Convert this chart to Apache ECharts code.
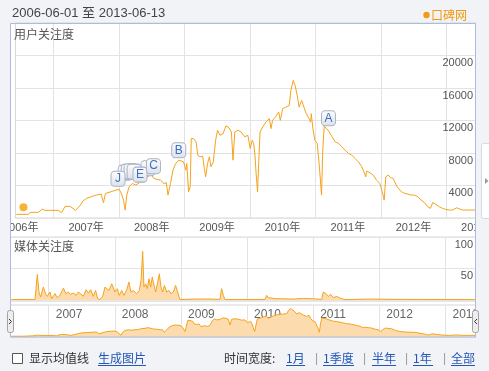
<!DOCTYPE html>
<html>
<head>
<meta charset="utf-8">
<script src="https://cdn.jsdelivr.net/npm/echarts@6/dist/echarts.min.js"></script>
<style>
html,body{margin:0;padding:0;background:#f1f3f7;overflow:hidden;width:489px;height:371px;}
#c{width:530px;height:371px;}
</style>
</head>
<body>
<div id="c"></div>
<script>
// ---------- data ----------
const startDate = '2006-06-01';
const endDate = '2013-06-13';

const mainDates = ['2006-06-06','2006-08-13','2006-08-23','2006-10-08','2006-10-30','2006-11-14','2007-01-26','2007-02-14','2007-03-04','2007-04-01',
'2007-04-19','2007-05-02','2007-05-26','2007-06-13','2007-07-02','2007-07-30','2007-08-26','2007-09-23','2007-10-06','2007-10-17',
'2007-11-17','2007-12-15','2008-01-02','2008-01-15','2008-01-26','2008-02-04','2008-02-13','2008-02-26','2008-03-16','2008-04-03',
'2008-04-22','2008-05-10','2008-05-28','2008-06-16','2008-06-25','2008-07-04','2008-07-13','2008-08-01','2008-08-19','2008-09-07',
'2008-09-21','2008-09-30','2008-10-14','2008-10-28','2008-11-10','2008-11-29','2008-12-08','2008-12-26','2009-01-08','2009-01-13',
'2009-01-23','2009-02-01','2009-02-07','2009-02-19','2009-03-06','2009-03-15','2009-03-28','2009-04-12','2009-04-21','2009-04-28',
'2009-05-09','2009-05-19','2009-05-28','2009-06-10','2009-06-23','2009-07-04','2009-07-17','2009-08-04','2009-08-19','2009-09-01',
'2009-09-19','2009-09-28','2009-10-08','2009-10-26','2009-11-13','2009-12-02','2009-12-20','2010-01-02','2010-01-13','2010-01-21',
'2010-01-28','2010-02-04','2010-02-12','2010-02-19','2010-02-26','2010-03-13','2010-03-31','2010-04-19','2010-04-28','2010-05-07',
'2010-05-26','2010-06-10','2010-06-19','2010-07-02','2010-07-20','2010-08-08','2010-08-17','2010-08-30','2010-09-10','2010-09-23',
'2010-10-02','2010-10-16','2010-11-07','2010-11-26','2010-12-05','2010-12-09','2010-12-18','2010-12-29','2011-01-11','2011-01-20',
'2011-01-29','2011-02-04','2011-02-11','2011-02-19','2011-03-13','2011-04-04','2011-04-22','2011-05-11','2011-05-29','2011-06-16',
'2011-07-05','2011-07-23','2011-08-11','2011-08-29','2011-09-17','2011-09-29','2011-10-09','2011-10-14','2011-11-02','2011-11-20',
'2011-12-08','2011-12-27','2012-01-09','2012-01-20','2012-01-29','2012-02-11','2012-02-24','2012-03-10','2012-03-19','2012-04-01',
'2012-04-25','2012-05-13','2012-06-01','2012-06-19','2012-07-07','2012-07-26','2012-08-13','2012-08-31','2012-09-19','2012-10-04',
'2012-10-17','2012-11-04','2012-11-22','2012-12-11','2012-12-29','2013-01-17','2013-02-04','2013-02-13','2013-02-28','2013-03-13',
'2013-03-31','2013-04-28','2013-06-13'];
const mainValues = [450,450,700,700,1100,940,940,650,1390,1450,
1180,940,1470,2080,2410,2620,2820,2940,1880,3030,
3230,3440,3520,2940,2200,980,2820,3840,4250,4050,
4330,4460,4990,5160,5480,5560,4870,4740,4660,4250,
4330,2820,4250,5890,6630,7120,7320,6910,5890,6710,
3230,3840,9780,9780,9370,7730,7530,7600,6100,5070,
6710,7530,6300,6910,9570,10800,10180,10390,11330,11210,
10590,7120,10590,10800,10590,10000,10180,8550,9570,9200,
7900,5480,3230,7120,10590,11210,11820,12230,11000,12020,
12520,13040,12020,13450,13650,13860,15710,16930,16320,14890,
13650,14480,13040,12230,11800,12840,11000,9570,9170,7120,
4660,2820,8340,11290,10800,10000,9370,9170,8750,8340,
7940,7730,7320,6910,6300,5690,5070,5770,5560,5280,
4660,4250,3230,2200,5070,5280,4990,4870,4450,3840,
3230,3030,2940,2820,2820,2620,2200,1920,1390,1180,
1910,1670,1390,1180,1060,980,980,780,1260,1140,
980,980,980];

const mediaDates = ['2006-06-10','2006-10-17','2006-10-23','2006-10-30','2006-11-08','2006-11-17','2006-12-02','2006-12-15','2006-12-24','2007-01-08',
'2007-01-17','2007-02-05','2007-02-17','2007-03-04','2007-03-23','2007-04-06','2007-04-19','2007-05-02','2007-05-17','2007-06-01',
'2007-06-13','2007-06-26','2007-07-11','2007-07-26','2007-08-08','2007-08-21','2007-09-04','2007-09-17','2007-09-28','2007-10-11',
'2007-10-26','2007-11-08','2007-11-17','2007-11-30','2007-12-15','2007-12-24','2008-01-02','2008-01-15','2008-01-26','2008-02-08',
'2008-02-21','2008-03-07','2008-03-19','2008-03-30','2008-04-12','2008-05-01','2008-05-15','2008-05-25','2008-06-03','2008-06-10',
'2008-06-20','2008-06-29','2008-07-08','2008-07-17','2008-07-26','2008-08-05','2008-08-14','2008-08-23','2008-09-03','2008-09-12',
'2008-09-21','2008-10-01','2008-10-14','2008-10-26','2008-11-06','2008-11-19','2008-12-02','2008-12-13','2008-12-26','2009-03-10',
'2009-06-10','2009-08-04','2009-08-13','2009-08-23','2009-09-01','2010-04-10','2010-04-19','2010-04-28','2010-05-17','2010-06-04',
'2010-07-11','2010-09-13','2010-11-08','2011-01-02','2011-02-17','2011-02-26','2011-03-13','2011-03-26','2011-04-08','2011-04-22',
'2011-05-11','2011-05-25','2011-06-07','2011-06-26','2011-11-11','2012-03-28','2013-06-13'];
const mediaValues = [0.8,0.8,1,40.5,12.6,4.8,20.5,10,5.8,12.6,
2.2,10,3.7,7.4,18.9,10,12.6,9,11,7.4,
12.6,10,5.8,16.3,11,16.3,5.8,15.2,2.2,0.6,
5.8,20.5,23.1,15.2,25.8,28.4,12.6,17.9,7.4,15.2,
7.4,16.3,28.4,12.6,15.2,10,15.2,31,77.3,20.5,
25.8,17.9,33.7,20.5,36.3,23.1,12.6,25.8,41.6,20.5,
12.6,23.1,12.6,15.2,10,12.6,23.1,12.6,0.6,1.5,
1.5,1,18,7,0.6,0.8,7.4,3.7,3,2,
2,1.5,2.5,2,1,12.6,10,5.8,9,3.7,
5.8,3.7,2.2,0.6,1.5,1,0.6];

const flagLetters = ['D','I','H','G','F','J','E','C','B','A'];
const flagDates = ['2008-06-10','2008-02-04','2008-02-21','2008-03-08','2008-03-25','2007-12-26','2008-04-27','2008-07-11','2008-11-29','2011-03-15'];
const flagValues = [6135,5583,5706,5767,5706,4822,5337,6380,8344,12270];
const flagsCovered = ['D','I','H','G','F'];

const markerDates = ['2006-07-16'];
const markerValues = [1310];

const labelYears = [2006,2007,2008,2009,2010,2011,2012,2013];
const navYears = [2007,2008,2009,2010,2011,2012,2013];

// ---------- build ----------
function toTime(s){ const p = s.split('-').map(Number); return new Date(p[0], p[1]-1, p[2]).getTime(); }
const t0 = toTime(startDate), t1 = toTime(endDate);
const PANEL_W = 465, GRID_W = 519;
const tMax = t0 + (t1 - t0) * GRID_W / PANEL_W;

const mainData = mainDates.map((d,i)=>[toTime(d), mainValues[i]]);
const mediaData = mediaDates.map((d,i)=>[toTime(d), mediaValues[i]]);
const markerData = markerDates.map((d,i)=>[toTime(d), markerValues[i]]);
const yearStarts = navYears.map(y=>new Date(y,0,1).getTime());
const midYears = labelYears.map(y=>new Date(y,6,1).getTime());

const LINE = '#f5a31c';
const FILL = '#fcdcae';
const GRIDC = '#e3e3e3';
const BG = '#f1f3f7';
const NUMFONT = "'Liberation Sans','Noto Sans CJK SC',sans-serif";
const CJK = "'Noto Sans CJK SC','Liberation Sans',sans-serif";

const flagGrad = new echarts.graphic.LinearGradient(0,0,0,1,[{offset:0,color:'#fdfdfe'},{offset:1,color:'#dce2ea'}]);

const markPointData = flagLetters.map((l,i)=>{
  const o = {name:l, coord:[toTime(flagDates[i]), flagValues[i]]};
  if (flagsCovered.indexOf(l) >= 0) o.label = {show:false};
  return o;
});

function xAxisOpt(gridIndex, opts){
  return Object.assign({
    type:'value', gridIndex, min:t0, max:tMax, scale:true,
    axisLine:{show:false},
    axisTick:{show:false, customValues:yearStarts},
    splitLine:{show:true, lineStyle:{color:GRIDC, width:1}},
    axisLabel:{show:false}
  }, opts||{});
}
function yAxisOpt(gridIndex, max, interval, opts){
  return Object.assign({
    type:'value', gridIndex, min:0, max, interval, position:'right',
    axisLine:{show:false}, axisTick:{show:false},
    splitLine:{show:true, lineStyle:{color:GRIDC}},
    axisLabel:{inside:true, margin:56, verticalAlign:'top', padding:[2,0,0,0],
      showMinLabel:false, showMaxLabel:false, fontSize:11, color:'#555', fontFamily:NUMFONT,
      formatter:v=>String(v)}
  }, opts||{});
}

const option = {
  backgroundColor: BG,
  animation:false,
  grid:[
    {left:10, top:23, width:GRID_W, height:195, show:true, borderColor:'#d6d6d6', borderWidth:1},
    {left:10, top:237, width:GRID_W, height:63, show:true, borderColor:'#dadada', borderWidth:1},
    {left:10, top:305, width:GRID_W, height:32, show:true, borderColor:'#d6d6d6', borderWidth:1}
  ],
  xAxis:[
    xAxisOpt(0, {axisLabel:{show:true, customValues:midYears, margin:4, fontSize:11, color:'#555', fontFamily:NUMFONT,
      hideOverlap:false, showMinLabel:true, showMaxLabel:true, formatter:v=>new Date(v).getFullYear()+'年'}}),
    xAxisOpt(1, {axisLine:{show:true, onZero:false, lineStyle:{color:'#e6e6e6', width:3}}}),
    xAxisOpt(2, {position:'top', axisLabel:{show:true, inside:true, customValues:yearStarts, margin:4, align:'left',
      padding:[0,0,0,7], fontSize:12, color:'#666', fontFamily:NUMFONT, hideOverlap:false,
      showMinLabel:true, showMaxLabel:true, formatter:v=>String(new Date(v).getFullYear())}})
  ],
  yAxis:[
    yAxisOpt(0, 24000, 4000),
    yAxisOpt(1, 100, 50, {axisLabel:{inside:true, margin:56, verticalAlign:'top', padding:[2,0,0,0],
      showMinLabel:false, showMaxLabel:true, fontSize:11, color:'#555', fontFamily:NUMFONT, formatter:v=>String(v)}}),
    {type:'value', gridIndex:2, min:0, max:19000, show:false, splitLine:{show:false}}
  ],
  series:[
    {type:'line', xAxisIndex:0, yAxisIndex:0, data:mainData, showSymbol:false, z:3,
     lineStyle:{color:LINE, width:1}, itemStyle:{color:LINE},
     markPoint:{
       symbol:'roundRect', symbolSize:[14,15], symbolOffset:[0,0],
       itemStyle:{color:flagGrad, borderColor:'#a9b3c2', borderWidth:1},
       label:{show:true, position:'inside', formatter:p=>p.name, color:'#3f6fc6', fontSize:12, fontFamily:NUMFONT},
       data:markPointData
     }},
    {type:'scatter', xAxisIndex:0, yAxisIndex:0, data:markerData, symbol:'circle', symbolSize:8, z:4,
     itemStyle:{color:'#f5a000'}},
    {type:'line', xAxisIndex:1, yAxisIndex:1, data:mediaData, showSymbol:false, z:3,
     lineStyle:{color:LINE, width:1}, areaStyle:{color:FILL, opacity:1}},
    {type:'line', xAxisIndex:2, yAxisIndex:2, data:mainData, showSymbol:false,
     lineStyle:{color:LINE, width:1}, areaStyle:{color:FILL, opacity:1}}
  ],
  graphic:[
    {type:'rect', z:-10, shape:{x:10, y:23, width:465, height:314}, style:{fill:'#ffffff'}},
    {type:'rect', z:100, shape:{x:0, y:20, width:10, height:322}, style:{fill:BG}},
    {type:'rect', z:100, shape:{x:476, y:20, width:60, height:322}, style:{fill:BG}},
    {type:'rect', z:101, shape:{x:10.5, y:23.5, width:465, height:313.5}, style:{fill:'none', stroke:'#a9bddf', lineWidth:1}},
    {type:'rect', z:102, shape:{x:481.5, y:143.5, width:12, height:75, r:2}, style:{fill:'#ffffff', stroke:'#d3dae4', lineWidth:1}},
    {type:'polygon', z:103, shape:{points:[[485,178],[485,184],[488.5,181]]}, style:{fill:'#9a9a9a'}},
    {type:'rect', z:104, shape:{x:7.5, y:310.5, width:6, height:22, r:2}, style:{fill:'#eeeeee', stroke:'#a3a3a3', lineWidth:1}},
    {type:'polyline', z:105, shape:{points:[[9,319],[11.5,321.5],[9,324]]}, style:{stroke:'#333', lineWidth:1, fill:'none'}},
    {type:'rect', z:104, shape:{x:472.5, y:310.5, width:6, height:22, r:2}, style:{fill:'#eeeeee', stroke:'#a3a3a3', lineWidth:1}},
    {type:'polyline', z:105, shape:{points:[[477,319],[474.5,321.5],[477,324]]}, style:{stroke:'#333', lineWidth:1, fill:'none'}},
    {type:'text', z:110, style:{x:12, y:13, text:startDate+' 至 '+endDate, fill:'#444', font:"13px "+NUMFONT, textVerticalAlign:'middle'}},
    {type:'circle', z:110, shape:{cx:426.5, cy:15, r:3.2}, style:{fill:'#f39a0e'}},
    {type:'text', z:110, style:{x:431, y:15, text:'口碑网', fill:'#f39a0e', font:"12px "+CJK, textVerticalAlign:'middle'}},
    {type:'text', z:50, style:{x:14, y:34, text:'用户关注度', fill:'#555', font:"12px "+CJK, textVerticalAlign:'middle'}},
    {type:'text', z:50, style:{x:14, y:246.5, text:'媒体关注度', fill:'#555', font:"12px "+CJK, textVerticalAlign:'middle'}},
    {type:'rect', z:110, shape:{x:12.5, y:353.5, width:10, height:10}, style:{fill:'#ffffff', stroke:'#555', lineWidth:1}},
    {type:'text', z:110, style:{x:29, y:358.5, text:'显示均值线', fill:'#333', font:"12px "+CJK, textVerticalAlign:'middle'}},
    {type:'text', z:110, style:{x:98, y:358.5, text:'生成图片', fill:'#2456b8', font:"12px "+CJK, textVerticalAlign:'middle'}},
    {type:'line', z:110, shape:{x1:98, y1:365.5, x2:146, y2:365.5}, style:{stroke:'#2456b8', lineWidth:1}},
    {type:'text', z:110, style:{x:224, y:358.5, text:'时间宽度:', fill:'#333', font:"12px "+CJK, textVerticalAlign:'middle'}},
    {type:'text', z:110, style:{x:286, y:358.5, text:'1月', fill:'#2456b8', font:"12px "+CJK, textVerticalAlign:'middle'}},
    {type:'line', z:110, shape:{x1:286, y1:365.5, x2:305, y2:365.5}, style:{stroke:'#2456b8', lineWidth:1}},
    {type:'text', z:110, style:{x:315, y:358.5, text:'|', fill:'#999', font:"12px "+NUMFONT, textVerticalAlign:'middle'}},
    {type:'text', z:110, style:{x:323, y:358.5, text:'1季度', fill:'#2456b8', font:"12px "+CJK, textVerticalAlign:'middle'}},
    {type:'line', z:110, shape:{x1:323, y1:365.5, x2:354, y2:365.5}, style:{stroke:'#2456b8', lineWidth:1}},
    {type:'text', z:110, style:{x:363, y:358.5, text:'|', fill:'#999', font:"12px "+NUMFONT, textVerticalAlign:'middle'}},
    {type:'text', z:110, style:{x:372, y:358.5, text:'半年', fill:'#2456b8', font:"12px "+CJK, textVerticalAlign:'middle'}},
    {type:'line', z:110, shape:{x1:372, y1:365.5, x2:396, y2:365.5}, style:{stroke:'#2456b8', lineWidth:1}},
    {type:'text', z:110, style:{x:405, y:358.5, text:'|', fill:'#999', font:"12px "+NUMFONT, textVerticalAlign:'middle'}},
    {type:'text', z:110, style:{x:413, y:358.5, text:'1年', fill:'#2456b8', font:"12px "+CJK, textVerticalAlign:'middle'}},
    {type:'line', z:110, shape:{x1:413, y1:365.5, x2:433, y2:365.5}, style:{stroke:'#2456b8', lineWidth:1}},
    {type:'text', z:110, style:{x:443, y:358.5, text:'|', fill:'#999', font:"12px "+NUMFONT, textVerticalAlign:'middle'}},
    {type:'text', z:110, style:{x:451, y:358.5, text:'全部', fill:'#2456b8', font:"12px "+CJK, textVerticalAlign:'middle'}},
    {type:'line', z:110, shape:{x1:451, y1:365.5, x2:475, y2:365.5}, style:{stroke:'#2456b8', lineWidth:1}}
  ]
};

const chart = echarts.init(document.getElementById('c'), null, {renderer:'canvas'});
chart.setOption(option);
</script>
</body>
</html>
